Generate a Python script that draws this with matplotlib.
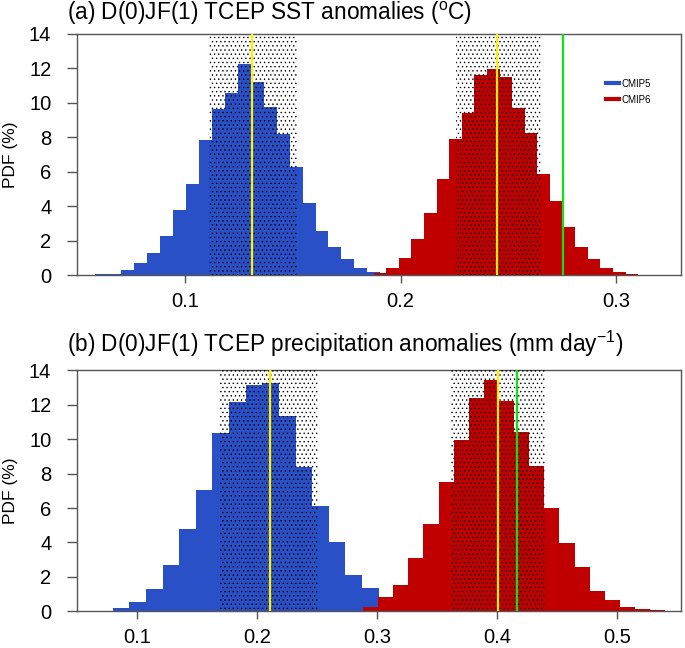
import numpy as np
import matplotlib
matplotlib.use("Agg")
import matplotlib.pyplot as plt
from matplotlib.lines import Line2D

plt.rcParams['font.family'] = ['Liberation Sans', 'DejaVu Sans']
plt.rcParams['hatch.linewidth'] = 0.5
plt.rcParams['hatch.color'] = 'black'

# ---------------- Panel (a): SST anomalies ----------------
a_cmip5_start = 0.0584
a_cmip5_width = 0.00601
a_cmip5_pdf = [0.05, 0.10, 0.29, 0.70, 1.31, 2.30, 3.80, 5.31, 7.85, 9.62, 10.55,
               12.25, 11.19, 9.78, 8.21, 6.28, 4.17, 2.57, 1.66, 0.93, 0.43, 0.17, 0.05]
a_cmip6_start = 0.1817
a_cmip6_width = 0.00584
a_cmip6_pdf = [0.03, 0.12, 0.41, 0.99, 2.09, 3.63, 5.58, 7.88, 9.41, 11.59, 11.98,
               11.48, 9.68, 8.23, 5.89, 4.29, 2.82, 1.66, 0.93, 0.44, 0.17, 0.06, 0.04, 0.02]
a_cmip5_range = (0.1111, 0.1519)
a_cmip6_range = (0.2259, 0.2649)
a_cmip5_mean = 0.1312
a_cmip6_mean = 0.2449
a_obs = 0.2754
a_xticks = [0.1, 0.2, 0.3]
a_xlim = (0.05, 0.33)

# ---------------- Panel (b): precipitation anomalies ----------------
b_cmip5_start = 0.0659
b_cmip5_width = 0.01384
b_cmip5_pdf = [0.04, 0.17, 0.54, 1.28, 2.67, 4.81, 7.02, 10.35, 12.17, 13.14, 13.28,
               11.34, 8.41, 6.14, 4.01, 2.11, 1.34, 0.60, 0.27, 0.12, 0.05]
b_cmip6_start = 0.2756
b_cmip6_width = 0.01258
b_cmip6_pdf = [0.04, 0.27, 0.81, 1.53, 3.12, 5.08, 7.52, 9.96, 12.40, 13.45, 12.19,
               10.39, 8.45, 5.99, 3.99, 2.60, 1.20, 0.66, 0.27, 0.14, 0.08, 0.04]
b_cmip5_range = (0.1692, 0.2510)
b_cmip6_range = (0.3612, 0.4400)
b_cmip5_mean = 0.2105
b_cmip6_mean = 0.4003
b_obs = 0.4165
b_xticks = [0.1, 0.2, 0.3, 0.4, 0.5]
b_xlim = (0.05, 0.553)

yticks = [0, 2, 4, 6, 8, 10, 12, 14]
labels = ['CMIP5', 'CMIP6']
colors = ['#2A50C8', '#C00000']
titles = ['(a) D(0)JF(1) TCEP SST anomalies ($\\mathregular{^oC}$)',
          '(b) D(0)JF(1) TCEP precipitation anomalies (mm day$\\mathregular{^{-1}}$)']

fig = plt.figure(figsize=(6.85, 6.48), dpi=100)
ax_a = fig.add_axes([0.1124, 0.5752, 0.8818, 0.3724])
ax_b = fig.add_axes([0.1124, 0.0566, 0.8818, 0.3719])

panels = [
    (ax_a, [(a_cmip5_start, a_cmip5_width, a_cmip5_pdf, a_cmip5_range, a_cmip5_mean),
            (a_cmip6_start, a_cmip6_width, a_cmip6_pdf, a_cmip6_range, a_cmip6_mean)],
     a_obs, a_xticks, a_xlim, titles[0], 14),
    (ax_b, [(b_cmip5_start, b_cmip5_width, b_cmip5_pdf, b_cmip5_range, b_cmip5_mean),
            (b_cmip6_start, b_cmip6_width, b_cmip6_pdf, b_cmip6_range, b_cmip6_mean)],
     b_obs, b_xticks, b_xlim, titles[1], 18),
]

spine_col = '#555555'
for ax, series, obs, xt, xl, title, toff in panels:
    for (start, width, pdf, rng, mean), col in zip(series, colors):
        lefts = start + width * np.arange(len(pdf))
        ax.bar(lefts, pdf, width=width, align='edge', color=col,
               edgecolor='none', linewidth=0, zorder=2)
    for (start, width, pdf, rng, mean), col in zip(series, colors):
        ax.axvspan(rng[0], rng[1], fill=False, hatch='....', edgecolor='black',
                   linewidth=0, zorder=3)
    for (start, width, pdf, rng, mean), col in zip(series, colors):
        ax.axvline(mean, color='#FFF000', lw=1.6, zorder=4)
    ax.axvline(obs, color='#11E011', lw=1.6, zorder=4)

    ax.set_xlim(*xl)
    ax.set_ylim(0, 14)
    ax.set_xticks(xt)
    ax.set_xticklabels([f'{v:g}' for v in xt])
    ax.set_yticks(yticks)
    for s in ax.spines.values():
        s.set_color(spine_col)
        s.set_linewidth(1.0)
    ax.tick_params(axis='both', direction='out', color=spine_col, labelsize=14.5,
                   width=1.0)
    ax.tick_params(axis='x', length=6, pad=6)
    ax.tick_params(axis='y', length=7.5, pad=11)
    pos = ax.get_position()
    top_px = (1 - pos.y1) * 648
    fig.text(67 / 685, 1 - (top_px - toff) / 648, title, fontsize=16.3,
             ha='left', va='baseline')
    fig.text(11 / 685, pos.y0 + pos.height / 2, 'PDF (%)', rotation=90,
             ha='center', va='center', fontsize=12.5)

handles = [Line2D([0], [0], color=c, lw=3) for c in colors]
leg = ax_a.legend(handles, labels, loc='upper left', bbox_to_anchor=(0.87, 0.83),
                  frameon=False, fontsize=7, handlelength=1.3, handletextpad=0.3,
                  labelspacing=0.6, borderaxespad=0)

fig.savefig('out.png', dpi=100)
